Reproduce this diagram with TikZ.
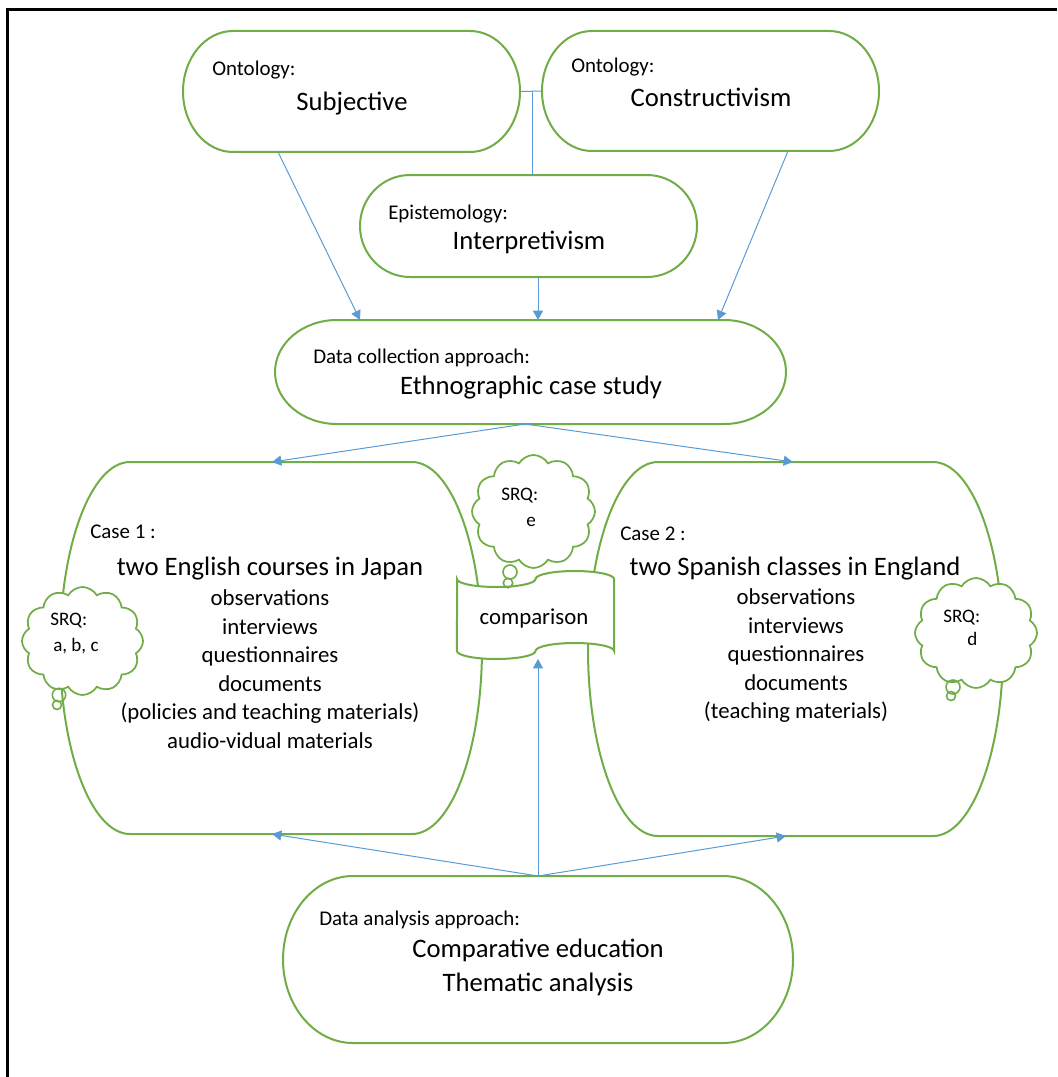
\documentclass[tikz,border=0pt]{standalone}
\usepackage{fontspec}
\setmainfont{Carlito}
\usetikzlibrary{arrows.meta,shapes.symbols,calc}
\definecolor{boxgreen}{HTML}{70AD47}
\definecolor{linkblue}{HTML}{5B9BD5}
\tikzset{
  outline/.style={draw=boxgreen, line width=1.5pt},
  framebar/.style={draw=black, line width=2.25pt},
  link/.style={draw=linkblue, line width=0.75pt},
  arrowlink/.style={link, -{Triangle[length=7pt,width=7.5pt]}},
  anchorbox/.style={inner sep=0pt, outer sep=0pt, draw=none},
  labeltext/.style={font=\fontsize{15.7}{19}\selectfont, inner sep=0pt, anchor=base west},
  headtext/.style={font=\fontsize{20}{24}\selectfont, inner sep=0pt, anchor=base},
  itemtext/.style={font=\fontsize{17.1}{21}\selectfont, inner sep=0pt, anchor=base},
  srqtext/.style={font=\fontsize{14.3}{17}\selectfont, inner sep=0pt, anchor=base west},
  thought/.style={cloud, cloud puffs=12, cloud puff arc=120, cloud ignores aspect,
    draw=boxgreen, line width=1.3pt, fill=white, inner sep=0pt},
  bubble/.style={circle, draw=boxgreen, line width=1.2pt, inner sep=0pt},
}
% terminator box: name, left, top, right, bottom, horizontal corner radius (px units)
\newcommand\termbox[6]{%
  \node[anchorbox, minimum width={(#4-#2)*0.75pt}, minimum height={(#5-#3)*0.75pt}]
    (#1) at ({(#2+#4)/2},{-(#3+#5)/2}) {};
  \draw[outline, fill=white] ({#2+#6},-#3) -- ({#4-#6},-#3)
    arc[start angle=90, end angle=-90, x radius={#6*0.75pt}, y radius={(#5-#3)*0.375pt}]
    -- ({#2+#6},-#5)
    arc[start angle=270, end angle=90, x radius={#6*0.75pt}, y radius={(#5-#3)*0.375pt}]
    -- cycle;
}
\begin{document}
\begin{tikzpicture}[x=0.75pt,y=0.75pt]
\useasboundingbox (0,0) rectangle (1057,-1077);
\draw[framebar] (7.5,-1077) -- (7.5,-9.7) -- (1057,-9.7);

% paradigm boxes
\termbox{subj}{183}{31}{520}{152}{50}
\termbox{constr}{542}{31}{879}{151}{50}
\termbox{epist}{360}{175}{697}{277}{50}
\termbox{dcoll}{275}{320}{786}{424}{62}
\termbox{caseone}{60}{462}{482}{834}{70}
\termbox{casetwo}{588}{462}{1003}{836}{70}
\termbox{analysis}{283}{876}{793}{1043}{70}

\node[labeltext] (subjlbl) at (212,-76) {Ontology:};
\node[headtext] (subjtxt) at (352,-111) {Subjective};
\node[labeltext] (constrlbl) at (571,-72.5) {Ontology:};
\node[headtext] (constrtxt) at (711,-106.7) {Constructivism};
\node[labeltext] (epistlbl) at (388,-219) {Epistemology:};
\node[headtext] (episttxt) at (529,-249) {Interpretivism};
\node[labeltext] (dcolllbl) at (313,-363) {Data collection approach:};
\node[headtext] (dcolltxt) at (531,-394) {Ethnographic case study};

% case 1
\node[labeltext] (c1lbl) at (90,-538) {Case 1 :};
\node[headtext] (c1txt) at (270,-575) {two English courses in Japan};
\foreach \txt [count=\i] in {observations, interviews, questionnaires, documents,
    {(policies and teaching materials)}, {audio-vidual materials}}
  \node[itemtext] (c1item\i) at (270,{-(605.5+(\i-1)*28.6)}) {\txt};

% case 2
\node[labeltext] (c2lbl) at (620,-540) {Case 2 :};
\node[headtext] (c2txt) at (795,-575) {two Spanish classes in England};
\foreach \txt [count=\i] in {observations, interviews, questionnaires, documents,
    {(teaching materials)}}
  \node[itemtext] (c2item\i) at (796,{-(604.5+(\i-1)*28.6)}) {\txt};

% analysis
\node[labeltext] (anlbl) at (319,-925) {Data analysis approach:};
\node[headtext] (antxt1) at (538,-957) {Comparative education};
\node[headtext] (antxt2) at (538,-991) {Thematic analysis};

% comparison banner
\node[anchorbox, minimum width={157*0.75pt}, minimum height={88*0.75pt}] (cmp) at (535.5,-615) {};
\draw[outline, fill=white] (457,-579)
  arc[start angle=180, end angle=360, x radius=29.44pt, y radius=6pt]
  arc[start angle=180, end angle=0, x radius=29.44pt, y radius=6pt]
  -- (614,-651)
  arc[start angle=0, end angle=180, x radius=29.44pt, y radius=6pt]
  arc[start angle=0, end angle=-180, x radius=29.44pt, y radius=6pt]
  -- cycle;
\node[itemtext] (cmptxt) at (534,-624) {comparison};

% thought clouds
\node[thought, minimum width={121*0.75pt}, minimum height={108*0.75pt}] (srqabc) at (82.5,-641) {};
\node[bubble, minimum size={13.4*0.75pt}] (abcb1) at (59,-695) {};
\node[bubble, minimum size={9*0.75pt}] (abcb2) at (57,-705) {};
\node[srqtext] (abcq) at (50,-625.5) {SRQ:};
\node[srqtext] (abct) at (53,-651) {a, b, c};

\node[thought, minimum width={123*0.75pt}, minimum height={113*0.75pt}] (srqe) at (533.5,-511.5) {};
\node[bubble, minimum size={14*0.75pt}] (eb1) at (510,-572) {};
\node[bubble, minimum size={9.4*0.75pt}] (eb2) at (508,-583) {};
\node[srqtext] (eq) at (501,-500.5) {SRQ:};
\node[srqtext] (et) at (526,-526) {e};

\node[thought, minimum width={122*0.75pt}, minimum height={110*0.75pt}] (srqd) at (976,-633) {};
\node[bubble, minimum size={14*0.75pt}] (db1) at (953,-687) {};
\node[bubble, minimum size={9*0.75pt}] (db2) at (951,-696) {};
\node[srqtext] (dq) at (943,-622) {SRQ:};
\node[srqtext] (dt) at (967,-645) {d};

% connectors
\draw[link] (subj.east) -- coordinate[pos=0.55] (fork) (constr.west);
\draw[link] (fork) -- (fork |- epist.north);
\draw[arrowlink] ($(subj.south west)+(95,0)$) -- ($(dcoll.north west)+(85,0)$);
\draw[arrowlink] ($(constr.south west)+(246,0)$) -- ($(dcoll.north west)+(443,0)$);
\coordinate (epout) at ($(epist.south)+(9.5,0)$);
\draw[arrowlink] (epout) -- (epout |- dcoll.north);
\coordinate (dcout) at ($(dcoll.south west)+(250,0)$);
\draw[arrowlink] (dcout) -- ($(caseone.north west)+(212,0)$);
\draw[arrowlink] (dcout) -- ($(casetwo.north west)+(205,0)$);
\coordinate (anout) at ($(analysis.north west)+(255,0)$);
\draw[arrowlink] (anout) -- ($(caseone.south west)+(212,0)$);
\draw[arrowlink] (anout) -- ($(casetwo.south west)+(198,0)$);
\draw[arrowlink] (anout) -- (anout |- cmp.south);
\end{tikzpicture}
\end{document}
